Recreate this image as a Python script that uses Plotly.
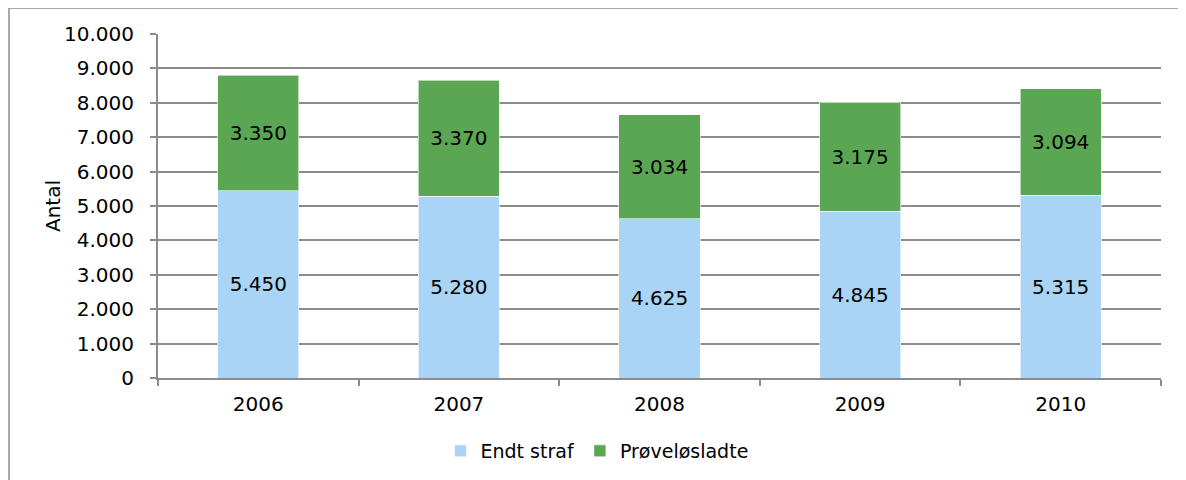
import plotly.graph_objects as go

years = ["2006", "2007", "2008", "2009", "2010"]
endt_straf = [5450, 5280, 4625, 4845, 5315]
proeveloesladte = [3350, 3370, 3034, 3175, 3094]

FONT = "DejaVu Sans"
OX, OY = 7, 7  # page offset of the rendered figure
W, H = 1186, 480
# target plot area in screenshot pixels
X0, X1, Y0, Y1 = 157, 1160, 33, 377
L = X0 - OX
T = Y0 - OY
R = W - (X1 - OX)
B = H - (Y1 - OY)
pw = W - L - R
ph = H - T - B

def px(x):
    return (x - OX - L) / pw

def py(y):
    return (H - B - (y - OY)) / ph

fig = go.Figure()
fig.add_trace(go.Bar(
    x=years, y=endt_straf, name="Endt straf",
    marker=dict(color="#A9D4F5", line=dict(color="rgba(255,255,255,0.6)", width=1)),
    texttemplate="%{y:,}", textposition="inside", insidetextanchor="middle",
    textangle=0, textfont=dict(family=FONT, size=20, color="black"),
))
fig.add_trace(go.Bar(
    x=years, y=proeveloesladte, name="Prøveløsladte",
    marker=dict(color="#5BA653", line=dict(color="rgba(255,255,255,0.6)", width=1)),
    texttemplate="%{y:,}", textposition="inside", insidetextanchor="middle",
    textangle=0, textfont=dict(family=FONT, size=20, color="black"),
))

fig.update_layout(
    width=W, height=H,
    barmode="stack", bargap=0.596,
    separators=",.",
    margin=dict(l=L, r=R, t=T, b=B, autoexpand=False),
    paper_bgcolor="white", plot_bgcolor="white",
    font=dict(family=FONT, size=19, color="black"),
    showlegend=True,
    legend=dict(orientation="h", x=px(596), xanchor="center", y=py(450), yanchor="middle",
                font=dict(family=FONT, size=19), traceorder="normal", itemwidth=30),
    uniformtext=dict(mode=False),
)
fig.update_xaxes(
    type="category", showgrid=False, showline=True, linecolor="#8c8c8c", linewidth=2,
    ticks="outside", tickson="boundaries", ticklen=6, tickcolor="#8c8c8c", tickwidth=2,
    tickfont=dict(family=FONT, size=20), ticklabelstandoff=7,
)
fig.update_yaxes(
    range=[0, 10000], dtick=1000, tickformat=",d",
    showgrid=True, gridcolor="#8c8c8c", gridwidth=2,
    showline=True, linecolor="#8c8c8c", linewidth=2,
    ticks="outside", ticklen=6, tickcolor="#8c8c8c", tickwidth=2,
    tickfont=dict(family=FONT, size=20), ticklabelstandoff=12,
    zeroline=False,
)
fig.add_annotation(text="Antal", xref="paper", yref="paper", x=px(52), y=py(205),
                   textangle=-90, showarrow=False, font=dict(family=FONT, size=20),
                   xanchor="center", yanchor="middle")
fig.add_shape(type="rect", xref="paper", yref="paper",
              x0=px(8), x1=px(1200), y0=py(500), y1=py(7),
              line=dict(color="#8c8c8c", width=1.5), layer="below")

fig.write_html("out.html")
